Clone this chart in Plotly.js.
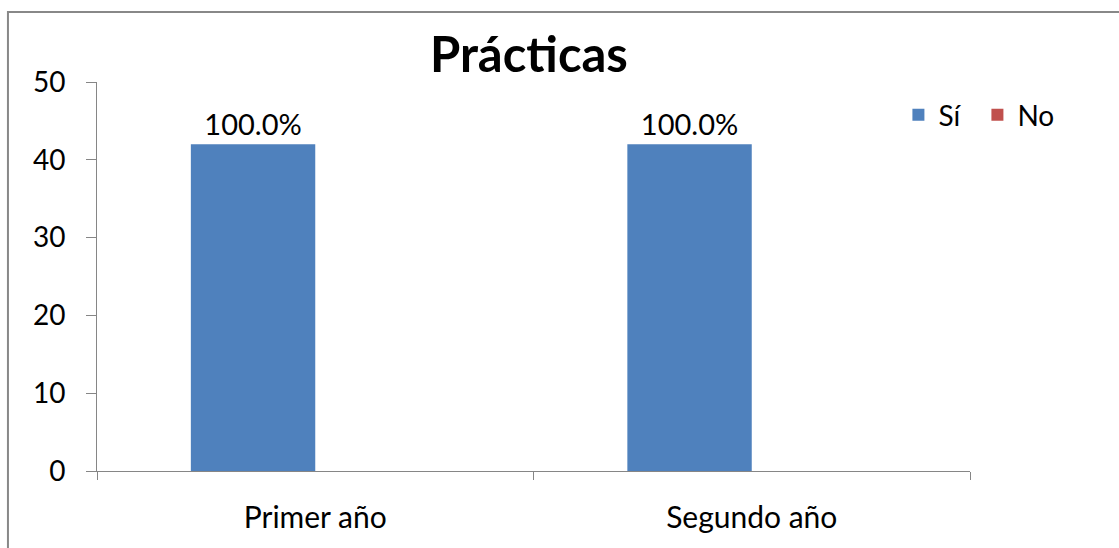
<!DOCTYPE html>
<html><head><meta charset="utf-8">
<script src="https://cdn.plot.ly/plotly-3.0.1.min.js"></script>
<style>html,body{margin:0;padding:0;background:#fff;}</style>
</head><body>
<div id="chart" style="width:1119px;height:548px;"></div>
<script>
const categories = ["Primer año", "Segundo año"];
const siValues = [42, 42];
const noValues = [0, 0];
const siLabels = ["100.0%", "100.0%"];
const seriesNames = ["Sí", "No"];

const font = "Lato, 'Open Sans', sans-serif";
const traces = [
  {type:"bar", name:seriesNames[0], x:categories, y:siValues, text:siLabels,
   textposition:"outside", cliponaxis:false, textfont:{family:font,size:29,color:"#000"},
   marker:{color:"#4F81BD"}},
  {type:"bar", name:seriesNames[1], x:categories, y:noValues,
   marker:{color:"#C0504D"}}
];
const layout = {
  width:1119, height:548,
  margin:{l:97, r:149, t:82, b:77, autoexpand:false},
  paper_bgcolor:"#fff", plot_bgcolor:"#fff",
  barmode:"group", bargap:0.43, bargroupgap:0,
  title:{text:"<b>Prácticas</b>", font:{family:font,size:49,color:"#000"}, x:0.4727, xanchor:"center", y:0.9, yanchor:"middle"},
  showlegend:true,
  legend:{orientation:"h", x:0.918, xanchor:"left", y:0.915, yanchor:"middle", font:{family:font,size:28,color:"#000"},
    itemwidth:30, entrywidth:34, entrywidthmode:"pixels", tracegroupgap:0},
  xaxis:{type:"category", showline:true, linecolor:"#868686", linewidth:1, ticks:"outside", tickson:"boundaries",
    ticklen:8, tickcolor:"#868686", showgrid:false, ticklabelstandoff:20, tickfont:{family:font,size:30,color:"#000"}},
  yaxis:{range:[0,50], dtick:10, showline:true, linecolor:"#868686", linewidth:1, ticks:"outside", ticklen:10,
    tickcolor:"#868686", showgrid:false, zeroline:false, ticklabelstandoff:15, tickfont:{family:font,size:28,color:"#000"}},
  shapes:[{type:"rect", xref:"paper", yref:"paper", x0:-0.102, x1:1.4, y0:-0.5, y1:1.18, line:{color:"#888",width:2}, layer:"below"}]
};
Plotly.newPlot("chart", traces, layout, {displayModeBar:false, staticPlot:true});
</script>
</body></html>
